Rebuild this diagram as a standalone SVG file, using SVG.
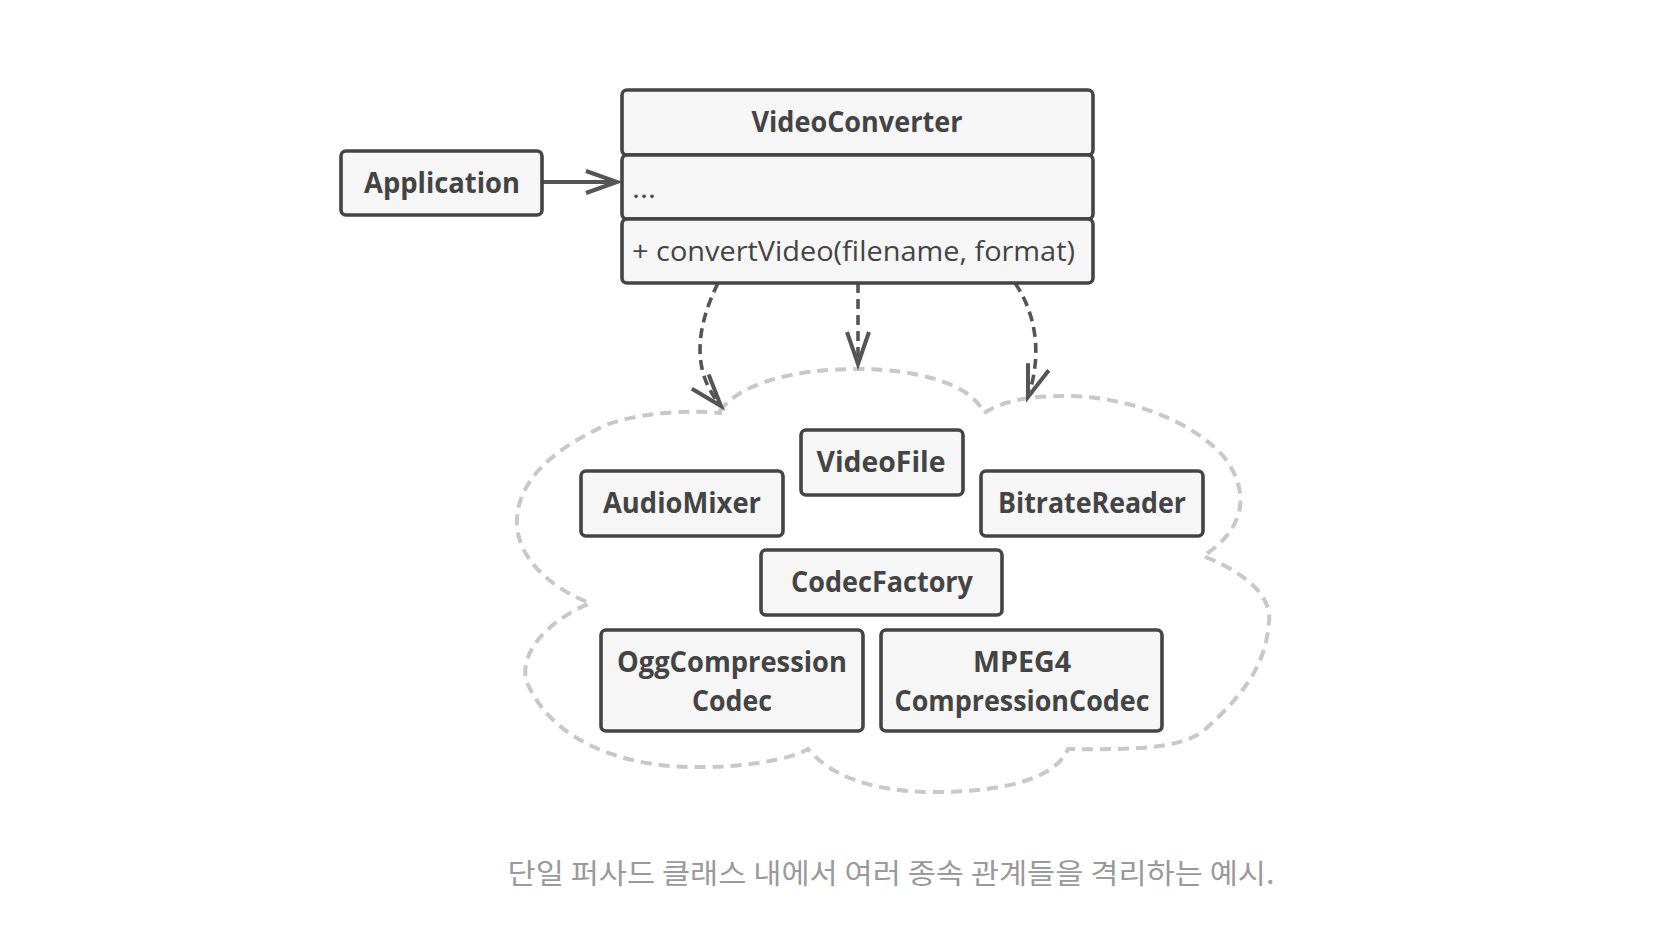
<svg xmlns="http://www.w3.org/2000/svg" width="1666" height="940" viewBox="0 0 1666 940">
<style>
.box{fill:#f6f6f6;stroke:#444;stroke-width:3.6}
.t{font-family:"Open Sans","Noto Sans",sans-serif;font-weight:bold;font-size:28px;fill:#444;text-anchor:middle}
.r{font-family:"Open Sans","Noto Sans",sans-serif;font-size:28px;fill:#444}
.cap{font-family:"Noto Sans CJK KR","Noto Sans",sans-serif;font-size:28px;fill:#9a9a9a;text-anchor:middle}
.dep{fill:none;stroke:#555;stroke-width:3.6;stroke-dasharray:10 6}
.assoc{fill:none;stroke:#555;stroke-width:3.8}
</style>
<defs>
<marker id="open" markerUnits="userSpaceOnUse" markerWidth="40" markerHeight="40" refX="32" refY="12" orient="auto" overflow="visible">
<path d="M1,1 L32,12 L1,23" fill="none" stroke="#555" stroke-width="4" stroke-linecap="butt" stroke-linejoin="miter"/>
</marker>
<marker id="dopen" markerUnits="userSpaceOnUse" markerWidth="40" markerHeight="40" refX="33" refY="12" orient="auto" overflow="visible">
<path d="M1,1 L33,12 L1,23" fill="none" stroke="#555" stroke-width="4" stroke-linecap="butt" stroke-linejoin="miter"/>
</marker>
</defs>
<rect width="1666" height="940" fill="#fff"/>
<g id="cloud">
<path d="M720,411 C738,385 790,369 857,369 C920,369 972,385 984,413 C1005,400 1030,396 1066,396 C1125,396 1192,420 1224,457 C1246,485 1252,525 1203,556 C1252,575 1272,600 1269,622 C1266,660 1250,690 1201,733 C1175,748 1140,750 1068,749 C1055,780 1000,792 935,792 C870,792 830,775 808,749 C790,760 740,768 691,767 C620,766 550,740 526,680 C520,650 550,620 590,603 C560,592 520,565 517,526 C515,490 540,455 606,425 C640,412 690,410 720,413 Z" fill="none" stroke="#c8c8c8" stroke-width="4" stroke-dasharray="11 7"/>
</g>
<g id="connectors">
<path class="assoc" d="M542,182 L617,182" marker-end="url(#open)"/>
<path class="dep" d="M718,283 C695,330 692,372 721,406" marker-end="url(#dopen)"/>
<path class="dep" d="M858,283 L858,364" marker-end="url(#dopen)"/>
<path class="dep" d="M1015,283 C1040,320 1040,362 1028,397" marker-end="url(#dopen)"/>
</g>
<g id="Application">
<rect class="box" x="341" y="151" width="201" height="64" rx="5"/>
<text class="t" x="442" y="193" textLength="156" lengthAdjust="spacingAndGlyphs">Application</text>
</g>
<g id="VideoConverter">
<rect class="box" x="622" y="90" width="471" height="65" rx="5"/>
<rect class="box" x="622" y="155" width="471" height="64" rx="5"/>
<rect class="box" x="622" y="219" width="471" height="64" rx="5"/>
<text class="t" x="857" y="132" textLength="211" lengthAdjust="spacingAndGlyphs">VideoConverter</text>
<text class="r" x="632" y="198" textLength="24" lengthAdjust="spacingAndGlyphs">...</text>
<text class="r" x="632" y="261" textLength="443" lengthAdjust="spacingAndGlyphs">+ convertVideo(filename, format)</text>
</g>
<g id="AudioMixer">
<rect class="box" x="581" y="471" width="202" height="65" rx="5"/>
<text class="t" x="682" y="513" textLength="158" lengthAdjust="spacingAndGlyphs">AudioMixer</text>
</g>
<g id="VideoFile">
<rect class="box" x="801" y="430" width="162" height="65" rx="5"/>
<text class="t" x="881" y="472" textLength="129" lengthAdjust="spacingAndGlyphs">VideoFile</text>
</g>
<g id="BitrateReader">
<rect class="box" x="981" y="471" width="222" height="65" rx="5"/>
<text class="t" x="1092" y="513" textLength="188" lengthAdjust="spacingAndGlyphs">BitrateReader</text>
</g>
<g id="CodecFactory">
<rect class="box" x="761" y="550" width="241" height="65" rx="5"/>
<text class="t" x="882" y="592" textLength="182" lengthAdjust="spacingAndGlyphs">CodecFactory</text>
</g>
<g id="OggCompressionCodec">
<rect class="box" x="601" y="630" width="262" height="101" rx="5"/>
<text class="t" x="732" y="672" textLength="230" lengthAdjust="spacingAndGlyphs">OggCompression</text>
<text class="t" x="732" y="711" textLength="80" lengthAdjust="spacingAndGlyphs">Codec</text>
</g>
<g id="MPEG4CompressionCodec">
<rect class="box" x="881" y="630" width="281" height="101" rx="5"/>
<text class="t" x="1022" y="672" textLength="98" lengthAdjust="spacingAndGlyphs">MPEG4</text>
<text class="t" x="1022" y="711" textLength="255" lengthAdjust="spacingAndGlyphs">CompressionCodec</text>
</g>
<text class="cap" x="891" y="884" textLength="767" lengthAdjust="spacingAndGlyphs">단일 퍼사드 클래스 내에서 여러 종속 관계들을 격리하는 예시.</text>
</svg>
